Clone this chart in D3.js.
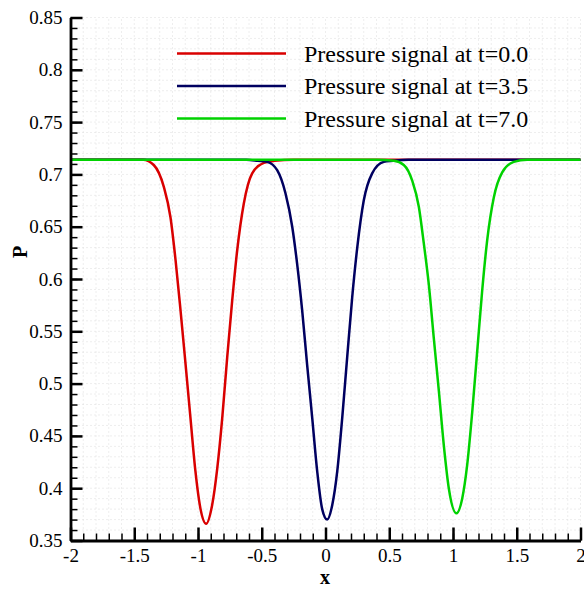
<!DOCTYPE html>
<html>
<head>
<meta charset="utf-8">
<script src="https://d3js.org/d3.v7.min.js"></script>
<style>
  body { margin: 0; background: #fff; }
  text { font-family: "Liberation Serif", "Times New Roman", serif; fill: #000; }
</style>
</head>
<body>
<script>
    // Chart size, same as the window
    var width = 584;
    var height = 590;

    // Tick labels
    var xTicks = [-2, -1.5, -1, -0.5, 0, 0.5, 1, 1.5, 2];
    var yTicks = [0.35, 0.4, 0.45, 0.5, 0.55, 0.6, 0.65, 0.7, 0.75, 0.8, 0.85];

    // Series: [x, P]
    var signal0 = [
        [-2.0, 0.714], [-1.6, 0.714], [-1.43, 0.714], [-1.347, 0.709], [-1.268, 0.688],
        [-1.216, 0.659], [-1.176, 0.618], [-1.137, 0.570], [-1.098, 0.519], [-1.059, 0.467],
        [-1.020, 0.416], [-0.980, 0.380], [-0.936, 0.366], [-0.889, 0.384], [-0.849, 0.419],
        [-0.810, 0.467], [-0.771, 0.525], [-0.732, 0.579], [-0.693, 0.627], [-0.641, 0.672],
        [-0.575, 0.701], [-0.484, 0.711], [-0.40, 0.713], [-0.25, 0.714], [2.0, 0.714]
    ];
    var signal35 = [
        [-2.0, 0.714], [-0.62, 0.714], [-0.53, 0.713], [-0.457, 0.712], [-0.379, 0.704],
        [-0.314, 0.682], [-0.261, 0.650], [-0.222, 0.614], [-0.183, 0.570], [-0.144, 0.518],
        [-0.104, 0.467], [-0.065, 0.416], [-0.026, 0.380], [0.013, 0.370], [0.053, 0.384],
        [0.092, 0.416], [0.131, 0.467], [0.170, 0.525], [0.209, 0.582], [0.249, 0.630],
        [0.300, 0.675], [0.366, 0.701], [0.457, 0.712], [0.530, 0.713], [0.65, 0.714],
        [2.0, 0.714]
    ];
    var signal70 = [
        [-2.0, 0.714], [0.40, 0.714], [0.536, 0.713], [0.614, 0.709], [0.680, 0.694],
        [0.732, 0.669], [0.771, 0.634], [0.810, 0.595], [0.849, 0.544], [0.889, 0.493],
        [0.928, 0.441], [0.967, 0.400], [1.027, 0.376], [1.072, 0.390], [1.111, 0.422],
        [1.151, 0.473], [1.190, 0.531], [1.229, 0.589], [1.268, 0.637], [1.320, 0.678],
        [1.386, 0.702], [1.477, 0.712], [1.582, 0.714], [2.0, 0.714]
    ];

    var seriesNames = ["Pressure signal at t=0.0", "Pressure signal at t=3.5", "Pressure signal at t=7.0"];
    var seriesColors = ["#d90000", "#000060", "#00d200"];
    var seriesData = [signal0, signal35, signal70];

    var svg = d3.select("body").append("svg")
        .attr("width", width)
        .attr("height", height);

    var x = d3.scaleLinear().domain([-2, 2]).range([70.5, 580.5]);
    var y = d3.scaleLinear().domain([0.35, 0.85]).range([540.5, 17.5]);

    // faint dotted grid on the minor ticks
    var xMinor = d3.range(-2, 2.0001, 0.1);
    var yMinor = d3.range(0.35, 0.85001, 0.01);
    var grid = svg.append("g").attr("stroke", "#dcdcdc").attr("stroke-width", 1).attr("stroke-dasharray", "1,3");
    grid.selectAll(".gx").data(xMinor).enter().append("line")
        .attr("x1", function(d) { return x(d); }).attr("x2", function(d) { return x(d); })
        .attr("y1", y(0.35)).attr("y2", y(0.85));
    grid.selectAll(".gy").data(yMinor).enter().append("line")
        .attr("y1", function(d) { return y(d); }).attr("y2", function(d) { return y(d); })
        .attr("x1", x(-2)).attr("x2", x(2));

    // the curves
    var line = d3.line()
        .x(function(d) { return x(d[0]); })
        .y(function(d) { return y(d[1]); })
        .curve(d3.curveMonotoneX);

    seriesData.forEach(function(data, i) {
        svg.append("path")
            .datum(data)
            .attr("d", line)
            .attr("fill", "none")
            .attr("stroke", seriesColors[i])
            .attr("stroke-width", 2.5);
    });

    // minor ticks (inward)
    svg.append("g")
        .attr("transform", "translate(0," + y(0.35) + ")")
        .call(d3.axisBottom(x).tickValues(xMinor).tickSize(-7).tickSizeOuter(0).tickFormat(""))
        .call(function(g) { g.select(".domain").remove(); g.selectAll("line").attr("stroke-width", 1.5); });
    svg.append("g")
        .attr("transform", "translate(" + x(-2) + ",0)")
        .call(d3.axisLeft(y).tickValues(yMinor).tickSize(-7).tickSizeOuter(0).tickFormat(""))
        .call(function(g) { g.select(".domain").remove(); g.selectAll("line").attr("stroke-width", 1.5); });

    // major ticks and labels (plain hyphen for negatives, like the original)
    var xAxis = svg.append("g")
        .attr("transform", "translate(0," + y(0.35) + ")")
        .call(d3.axisBottom(x).tickValues(xTicks).tickSize(-13).tickSizeOuter(0).tickPadding(8)
            .tickFormat(function(d) { return String(d); }));
    var yAxis = svg.append("g")
        .attr("transform", "translate(" + x(-2) + ",0)")
        .call(d3.axisLeft(y).tickValues(yTicks).tickSize(-12).tickSizeOuter(0).tickPadding(8)
            .tickFormat(function(d) { return String(+d.toFixed(2)); }));

    [xAxis, yAxis].forEach(function(g) {
        g.select(".domain").attr("stroke-width", 2.8);
        g.selectAll("line").attr("stroke-width", 2.5);
        g.selectAll("text")
            .attr("font-size", 19)
            .attr("fill", "#000");
    });
    xAxis.selectAll("text").attr("dy", "0.71em");

    // axis titles
    svg.append("text")
        .attr("x", 325)
        .attr("y", 584)
        .attr("text-anchor", "middle")
        .attr("font-size", 20)
        .attr("font-weight", "bold")
        .text("x");
    svg.append("text")
        .attr("transform", "translate(27,252) rotate(-90)")
        .attr("text-anchor", "middle")
        .attr("font-size", 20)
        .attr("font-weight", "bold")
        .text("P");

    // legend
    var legend = svg.append("g");
    seriesNames.forEach(function(name, i) {
        var ly = 53.5 + i * 32.5;
        legend.append("line")
            .attr("x1", 177).attr("x2", 286)
            .attr("y1", ly).attr("y2", ly)
            .attr("stroke", seriesColors[i])
            .attr("stroke-width", 2.5);
        legend.append("text")
            .attr("x", 304)
            .attr("y", ly + 8)
            .attr("font-size", 24)
            .text(name);
    });
</script>
</body>
</html>
